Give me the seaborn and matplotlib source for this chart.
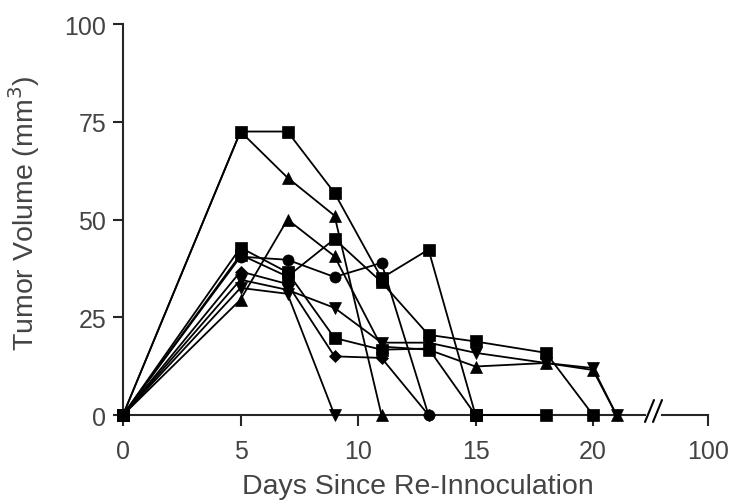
import matplotlib
matplotlib.use('Agg')
import seaborn as sns
import matplotlib.pyplot as plt

# tumour volume (mm3) per mouse
days_a = [0, 5, 7, 9, 11, 13, 15, 18]
vol_a = [0, 72.5, 72.5, 56.8, 35.0, 42.3, 0, 0]
days_b = [0, 5, 7, 9, 11]
vol_b = [0, 72.5, 60.7, 51.0, 0]
days_c = [0, 5, 7, 9, 11, 13, 15, 18, 20, 21]
vol_c = [0, 29.5, 50.0, 40.6, 17.5, 16.7, 12.4, 13.3, 11.5, 0]
days_d = [0, 5, 7, 9, 11, 13]
vol_d = [0, 40.5, 39.7, 35.3, 38.9, 0]
days_e = [0, 5, 7, 9, 11, 13, 15, 18, 20]
vol_e = [0, 41.0, 35.4, 45.0, 34.0, 20.5, 18.8, 15.9, 0]
days_f = [0, 5, 7, 9]
vol_f = [0, 32.5, 31.0, 0]
days_g = [0, 5, 7, 9, 11, 13, 15, 18, 20, 21]
vol_g = [0, 34.6, 32.0, 27.4, 18.5, 18.5, 15.9, 13.3, 12.0, 0]
days_h = [0, 5, 7, 9, 11, 13]
vol_h = [0, 36.7, 33.5, 15.0, 14.6, 0]
days_i = [0, 5, 7, 9, 11, 13, 15]
vol_i = [0, 42.8, 36.5, 19.7, 16.7, 17.0, 0]

mice = [
    (days_a, vol_a, 's'), (days_b, vol_b, '^'), (days_c, vol_c, '^'),
    (days_d, vol_d, 'o'), (days_e, vol_e, 's'), (days_f, vol_f, 'v'),
    (days_g, vol_g, 'v'), (days_h, vol_h, 'D'), (days_i, vol_i, 's'),
]

x_ticks = [0, 5, 10, 15, 20]
y_ticks = [0, 25, 50, 75, 100]

sns.set_style('ticks')
plt.rcParams['font.family'] = ['Liberation Sans', 'DejaVu Sans']
text_col = '#444444'

W, H = 731, 502
fig = plt.figure(figsize=(W / 100, H / 100), dpi=100)
bottom, top = 416, 25
ax = fig.add_axes([123 / W, 1 - bottom / H, (645 - 123) / W, (bottom - top) / H])
ax2 = fig.add_axes([662 / W, 1 - bottom / H, (708 - 662) / W, (bottom - top) / H], sharey=ax)

for d, v, m in mice:
    sz = 6.5 if m == 'D' else 8
    sns.lineplot(x=d, y=v, ax=ax, color='black', marker=m, markersize=sz,
                 markeredgecolor='black', markeredgewidth=0.5, linewidth=1.3,
                 clip_on=False, zorder=3, legend=False)

ax.set_xlim(0, (645 - 123) / 23.5)
ax.set_ylim(0, 100)
ax.set_xticks(x_ticks)
ax.set_yticks(y_ticks)
for s in ['top', 'right']:
    ax.spines[s].set_visible(False)
for s in ['left', 'bottom']:
    ax.spines[s].set_linewidth(1.5)
ax.tick_params(axis='x', length=8, width=1.5, pad=9, labelsize=18, labelcolor=text_col)
ax.tick_params(axis='y', length=7, width=1.5, pad=5, labelsize=18, labelcolor=text_col)
ax.set_xlabel('')
ax.set_ylabel('')

ax2.set_xlim(98, 100)
ax2.set_xticks([100])
for s in ['top', 'right', 'left']:
    ax2.spines[s].set_visible(False)
ax2.spines['bottom'].set_linewidth(1.5)
ax2.tick_params(axis='x', length=8, width=1.5, pad=9, labelsize=18, labelcolor=text_col)
ax2.tick_params(axis='y', left=False, labelleft=False)
ax2.patch.set_visible(False)

# axis break marks
for x0 in (645, 653):
    fig.add_artist(plt.Line2D([x0 / W, (x0 + 9) / W], [1 - 423 / H, 1 - 401 / H],
                              color='black', linewidth=1.5))

fig.text(418 / W, 1 - 494 / H, 'Days Since Re-Innoculation', ha='center', va='baseline',
         fontsize=20.5, color=text_col)
fig.text(24 / W, 1 - 213 / H, 'Tumor Volume (mm$^3$)', ha='center', va='center',
         rotation=90, fontsize=20.5, color=text_col)

fig.savefig('out.png', dpi=100)
